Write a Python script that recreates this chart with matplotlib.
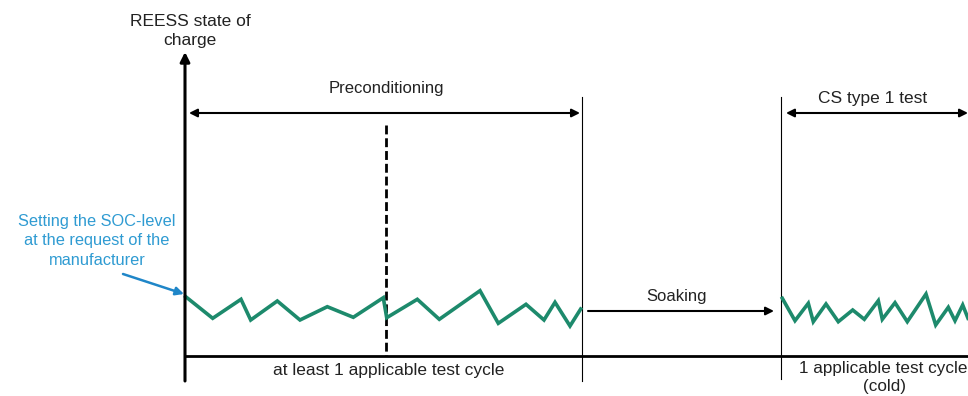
import matplotlib.pyplot as plt
import numpy as np

plt.rcParams['font.family'] = ['Liberation Sans', 'DejaVu Sans']

# SOC trace, preconditioning part (x = time position, y = soc level, screen units)
pre_t = [185.7, 212.7, 241, 250.7, 277.3, 300, 327.3, 353.3, 383.3, 386.7, 417.3,
         439.3, 480, 498.3, 526, 544, 555, 570, 580.7]
pre_soc = [296.7, 318.3, 299.3, 320, 301, 320, 306.7, 317.3, 297.7, 317.7, 299.3,
           319.3, 290.7, 323.3, 304.3, 320, 302.3, 326, 309]
# SOC trace, CS type 1 test part
cs_t = [782.3, 795, 808.3, 813.3, 826, 838.3, 852.7, 864.3, 878.3, 882.3, 895,
        907.3, 926, 935.7, 948.3, 955, 962.7, 968]
cs_soc = [298.3, 320.7, 303.3, 321.7, 304, 321.7, 310, 319.3, 300.7, 319.3, 302.7,
          321.7, 294, 325, 307.3, 320.7, 305, 318.3]

green = '#1d8a6c'
blue = '#2f9bd2'
ink = '#222222'

fig = plt.figure(figsize=(9.68, 3.96), dpi=100)
ax = fig.add_axes([0, 0, 1, 1])
ax.set_xlim(0, 968)
ax.set_ylim(396, 0)
ax.axis('off')

# axes
ax.annotate('', xy=(185, 52), xytext=(185, 381),
            arrowprops=dict(arrowstyle='-|>', color='black', lw=2.2, mutation_scale=14,
                            shrinkA=0, shrinkB=0))
ax.plot([185, 968], [356, 356], color='black', lw=2)

# phase boundaries
ax.plot([581.5, 581.5], [97, 381], color='black', lw=0.8)
ax.plot([780.5, 780.5], [97, 379], color='black', lw=0.8)
ax.plot([386, 386], [125, 356], color='black', lw=2, ls=(0, (3.2, 1.4)))

# double arrows
arrow_kw = dict(color='black', lw=1.5, mutation_scale=12, shrinkA=0, shrinkB=0)
ax.annotate('', xy=(189, 113), xytext=(580, 113),
            arrowprops=dict(arrowstyle='<|-|>', **arrow_kw))
ax.annotate('', xy=(786, 113), xytext=(968, 113),
            arrowprops=dict(arrowstyle='<|-|>', **arrow_kw))
ax.annotate('', xy=(774, 311), xytext=(588, 311),
            arrowprops=dict(arrowstyle='-|>', **arrow_kw))

# soc traces
ax.plot(pre_t, pre_soc, color=green, lw=2.6, solid_joinstyle='miter')
ax.plot(cs_t, cs_soc, color=green, lw=2.6, solid_joinstyle='miter')

fs = 12
ax.text(190, 31, 'REESS state of\ncharge', ha='center', va='center', fontsize=12.5,
        linespacing=1.3, color=ink)
ax.text(386, 89, 'Preconditioning', ha='center', va='center', fontsize=fs, color=ink)
ax.text(873, 99, 'CS type 1 test', ha='center', va='center', fontsize=12.5, color=ink)
ax.text(677, 296, 'Soaking', ha='center', va='center', fontsize=fs, color=ink)
ax.text(389, 370, 'at least 1 applicable test cycle', ha='center', va='center',
        fontsize=12.5, color=ink)
ax.text(799, 368, '1 applicable test cycle', ha='left', va='center', fontsize=12.3,
        color=ink)
ax.text(884, 387, '(cold)', ha='center', va='center', fontsize=12.3, color=ink)
ax.text(97, 241, 'Setting the SOC-level\nat the request of the\nmanufacturer', ha='center',
        va='center', fontsize=11.8, color=blue, linespacing=1.35)
ax.annotate('', xy=(184, 294), xytext=(123, 274),
            arrowprops=dict(arrowstyle='-|>', color='#1f86c8', lw=1.8, mutation_scale=12,
                            shrinkA=0, shrinkB=0))

fig.savefig('out.png', dpi=100)
